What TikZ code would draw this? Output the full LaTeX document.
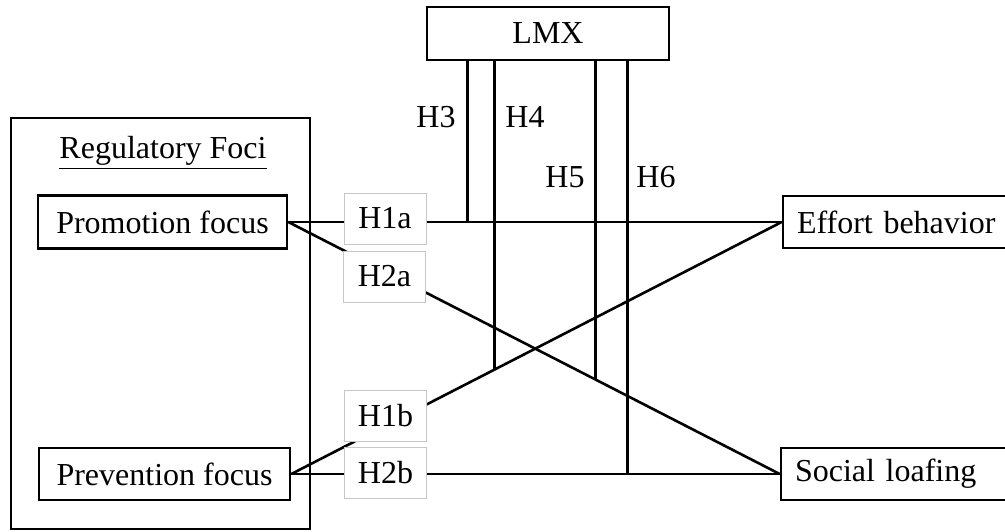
\documentclass[tikz,border=0pt]{standalone}
\usepackage{fontspec}
\setmainfont{Liberation Serif}
\usetikzlibrary{positioning}

\tikzset{
  varbox/.style={draw,rectangle,line width=1.3pt,text centered,minimum height=26.5pt},
  outbox/.style={draw,rectangle,line width=1.3pt,text width=106pt,align=left,inner xsep=7pt,minimum height=26pt},
  hypbox/.style={draw=black!22,fill=white,rectangle,line width=0.5pt,minimum width=41pt,minimum height=25.5pt},
  link/.style={line width=1.3pt}
}

\begin{document}
\begin{tikzpicture}[x=0.5pt,y=-0.5pt,font=\fontsize{16}{19}\selectfont]
\useasboundingbox (0,0) rectangle (1005,531);

% regulatory foci frame
\node[draw,line width=1.3pt,minimum width=149.5pt,minimum height=205.5pt] (foci) at (160.5,323.5) {};
\node (focititle) at (163,153) {\underline{Regulatory Foci}};

\node[varbox,minimum width=124.5pt] (promo) at (162.5,222) {Promotion focus};
\node[varbox,minimum width=125.5pt,minimum height=26pt] (preven) at (164.5,474) {Prevention focus};

\node[outbox] (effort) at (903,222) {Effort behavior};
\node[outbox] (social) at (901,474) {Social loafing};

\node[varbox,minimum width=121pt] (lmx) at (548,33.5) {LMX};

% main paths
\draw[link] (promo.east) -- coordinate[pos=0.363] (m3) (effort.west);
\draw[link] (promo.east) -- coordinate[pos=0.6255] (m5) (social.west);
\draw[link] (preven.east) -- coordinate[pos=0.414] (m4) (effort.west);
\draw[link] (preven.east) -- coordinate[pos=0.688] (m6) (social.west);

% moderation by LMX
\draw[link] (lmx.south -| m3) -- (m3);
\draw[link] (lmx.south -| m4) -- (m4);
\draw[link] (lmx.south -| m5) -- (m5);
\draw[link] (lmx.south -| m6) -- (m6);

\node (h3) at (436,117) {H3};
\node (h4) at (525,117) {H4};
\node (h5) at (565,177) {H5};
\node (h6) at (656,177) {H6};

\node[hypbox] (h1a) at (385,218.5) {H1a};
\node[hypbox] (h2a) at (384.5,276.5) {H2a};
\node[hypbox] (h1b) at (385.5,415.5) {H1b};
\node[hypbox] (h2b) at (385.5,472.5) {H2b};

\end{tikzpicture}
\end{document}
